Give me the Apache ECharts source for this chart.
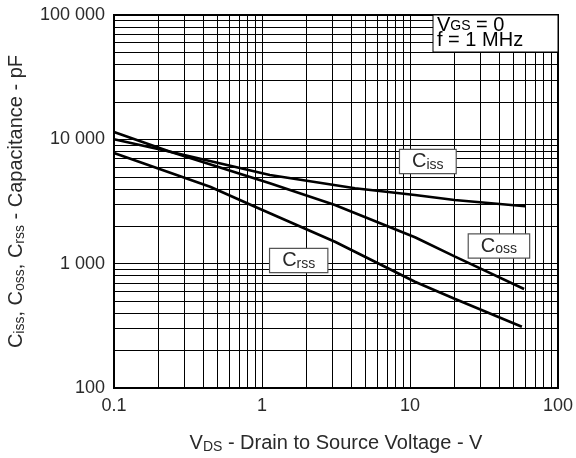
<!DOCTYPE html>
<html><head><meta charset="utf-8">
<script src="https://cdn.jsdelivr.net/npm/echarts@6/dist/echarts.min.js"></script>
<style>html,body{margin:0;padding:0;background:#fff}#c{width:576px;height:458px}</style>
</head><body><div id="c"></div>
<script>
// Data (VDS in V, capacitance in pF)
const cissData = [[0.1, 10000], [0.24, 7950], [1.13, 5160], [4.25, 4040], [10.8, 3565], [20, 3250], [60, 2900]];
const cossData = [[0.1, 11450], [0.24, 7950], [1.13, 4430], [3.11, 2960], [10.8, 1630], [20, 1145], [59, 625]];
const crssData = [[0.1, 7760], [0.446, 4160], [0.897, 2870], [3.11, 1500], [10.8, 715], [20, 522], [57, 311]];
const xTickLabels = {0.1: '0.1', 1: '1', 10: '10', 100: '100'};
const yTickLabels = {100: '100', 1000: '1 000', 10000: '10 000', 100000: '100 000'};
const xMinor = [0.2,0.3,0.4,0.5,0.6,0.7,0.8,0.9,2,3,4,5,6,7,8,9,20,30,40,50,60,70,80,90];
const yMinor = [200,300,400,500,600,700,800,900,2000,3000,4000,5000,6000,7000,8000,9000,20000,30000,40000,50000,60000,70000,80000,90000];
// label anchors
const labelPos = {Ciss: [13.2, 6630], Coss: [39.9, 1386], Crss: [1.77, 1060]};

const FONT = 'Liberation Sans';
const TXT = '#2a2a2a';
const rich = {
  n: {fontFamily: FONT, fontSize: 20, color: TXT, lineHeight: 22},
  s: {fontFamily: FONT, fontSize: 14, color: TXT, lineHeight: 21, verticalAlign: 'bottom'},
  c: {fontFamily: FONT, fontSize: 20, color: TXT, lineHeight: 21},
  t: {fontFamily: FONT, fontSize: 14, color: TXT, lineHeight: 19, verticalAlign: 'bottom'},
  g: {fontFamily: FONT, fontSize: 20, color: TXT, lineHeight: 16},
  h: {fontFamily: FONT, fontSize: 14, color: TXT, lineHeight: 14, verticalAlign: 'bottom'}
};
function curve(name, data) {
  return {
    name, type: 'line', data, symbol: 'none', smooth: false, z: 5,
    lineStyle: {color: '#000', width: 2.6}
  };
}
function boxLabel(sub, pos) {
  return {
    coord: pos, symbol: 'rect', symbolSize: 1, itemStyle: {color: 'rgba(0,0,0,0)'},
    label: {
      show: true, position: 'inside', formatter: '{c|C}{t|' + sub + '}', rich,
      backgroundColor: '#fff', borderColor: '#555', borderWidth: 1.2,
      padding: [1, 12, 1, 12]
    }
  };
}
const chart = echarts.init(document.getElementById('c'), null, {renderer: 'canvas'});
chart.setOption({
  animation: false,
  grid: {left: 114, right: 18, top: 15, bottom: 70, containLabel: false, outerBoundsMode: 'none', show: true, borderColor: '#000', borderWidth: 2, backgroundColor: 'transparent'},
  xAxis: {
    type: 'log', logBase: 10, min: 0.1, max: 100,
    axisLine: {show: true, lineStyle: {color: '#000', width: 2}},
    axisTick: {show: false},
    splitLine: {show: true, lineStyle: {color: '#000', width: 1}},
    axisLabel: {fontFamily: FONT, fontSize: 18, color: TXT, margin: 9, formatter: v => xTickLabels[+v.toPrecision(3)] || ''},
    name: '{n|V}{s|DS}{n| - Drain to Source Voltage - V}',
    nameLocation: 'middle', nameGap: 44,
    nameTextStyle: {rich}
  },
  yAxis: {
    type: 'log', logBase: 10, min: 100, max: 100000,
    axisLine: {show: true, lineStyle: {color: '#000', width: 2}},
    axisTick: {show: false},
    splitLine: {show: true, lineStyle: {color: '#000', width: 1}},
    axisLabel: {fontFamily: FONT, fontSize: 18, color: TXT, margin: 9, formatter: v => yTickLabels[Math.round(v)] || ''},
    name: '{n|C}{s|iss}{n|, C}{s|oss}{n|, C}{s|rss}{n| - Capacitance - pF}',
    nameLocation: 'middle', nameGap: 87,
    nameTextStyle: {rich}
  },
  series: [
    {
      type: 'line', data: [], z: 1, silent: true,
      markLine: {
        silent: true, symbol: 'none', animation: false,
        lineStyle: {color: '#000', width: 1, type: 'solid'},
        label: {show: false},
        data: xMinor.map(v => ({xAxis: v})).concat(yMinor.map(v => ({yAxis: v})))
      }
    },
    curve('Ciss', cissData),
    curve('Coss', cossData),
    curve('Crss', crssData),
    {
      type: 'line', data: [], z: 10,
      markPoint: {
        silent: true, animation: false,
        data: [boxLabel('iss', labelPos.Ciss), boxLabel('oss', labelPos.Coss), boxLabel('rss', labelPos.Crss)]
      }
    }
  ],
  graphic: {
    elements: [
      {type: 'rect', x: 433, y: 15, z: 100, zlevel: 1, silent: true, shape: {x: 0, y: 0, width: 125, height: 37}, style: {fill: '#ffffff', stroke: '#000000', lineWidth: 1}},
      {type: 'text', x: 437, y: 17, z: 101, zlevel: 1, silent: true, style: {text: '{g|V}{h|GS}{g| = 0}', rich}},
      {type: 'text', x: 437, y: 32, z: 101, zlevel: 1, silent: true, style: {text: '{g|f = 1 MHz}', rich}}
    ]
  }
});
</script>
</body></html>
